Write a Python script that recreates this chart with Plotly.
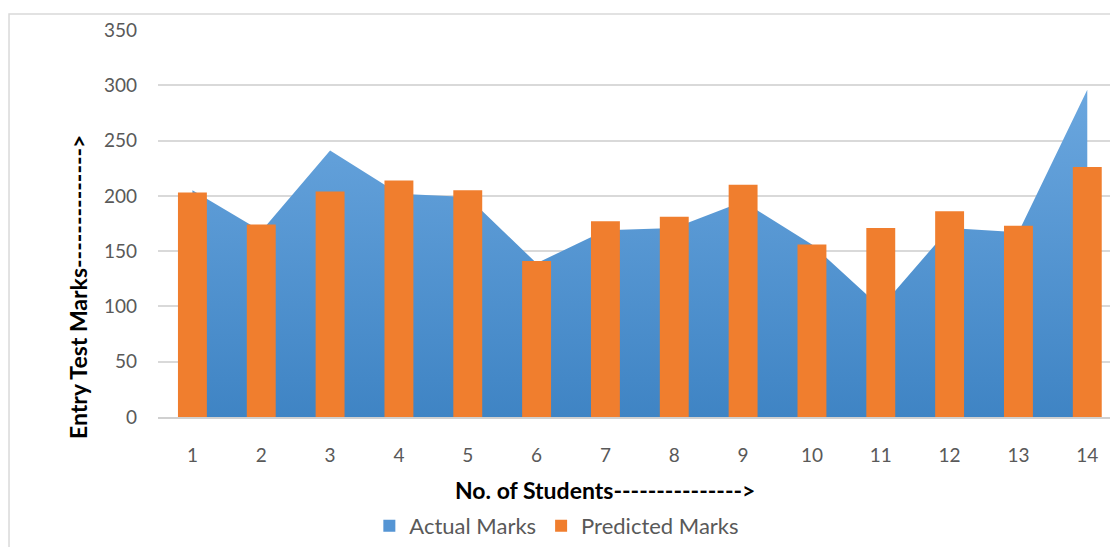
import plotly.graph_objects as go

students = list(range(1, 15))
actual_marks = [205, 168, 241, 202, 199, 139, 169, 171, 195, 156, 99, 171, 167, 296]
predicted_marks = [203, 174, 204, 214, 205, 141, 177, 181, 210, 156, 171, 186, 173, 226]
y_ticks = [0, 50, 100, 150, 200, 250, 300, 350]

FONT = "Lato"
GRAY = "#595959"
BLUE = "#5595d4"
ORANGE = "#f07e2e"

fig = go.Figure()
fig.add_trace(go.Scatter(
    x=students, y=actual_marks, name="Actual Marks", mode="lines",
    line=dict(width=0, color=BLUE), fill="tozeroy",
    fillgradient=dict(type="vertical", colorscale=[[0, "#3f84c4"], [1, "#6ba7df"]], start=0, stop=300),
    showlegend=False, xaxis="x", yaxis="y"))
# legend swatch for the area series (square, as in the reference)
fig.add_trace(go.Bar(
    x=[None], y=[None], name="Actual Marks", marker=dict(color=BLUE, line=dict(width=0)),
    xaxis="x2", yaxis="y2"))
fig.add_trace(go.Bar(
    x=students, y=predicted_marks, name="Predicted Marks", width=0.42,
    marker=dict(color=ORANGE, line=dict(width=0)),
    xaxis="x2", yaxis="y2"))

xr = [0.5, 14.33]
fig.update_layout(
    width=1110, height=547,
    margin=dict(l=158, r=0, t=30, b=130),
    paper_bgcolor="white", plot_bgcolor="white",
    font=dict(family=FONT, size=19, color=GRAY),
    showlegend=True, barmode="overlay",
    legend=dict(orientation="h", x=0.222, xanchor="left", y=-0.282, yanchor="middle",
                font=dict(family=FONT, size=22, color=GRAY), traceorder="normal"),
    xaxis=dict(range=xr, tickmode="array", tickvals=students, ticktext=[str(s) for s in students],
               showgrid=False, zeroline=False, showline=True, linecolor="#d0d0d0", linewidth=2,
               ticks="", ticklabelstandoff=20, tickfont=dict(size=19, color=GRAY)),
    yaxis=dict(range=[0, 350], tickvals=y_ticks, showgrid=True, gridcolor="#d9d9d9", gridwidth=1.5,
               zeroline=False, showline=False, ticks="", ticklabelstandoff=20,
               tickfont=dict(size=19, color=GRAY)),
    xaxis2=dict(range=xr, overlaying="x", visible=False),
    yaxis2=dict(range=[0, 350], overlaying="y", visible=False),
    shapes=[dict(type="rect", xref="paper", yref="paper", x0=-0.1565, x1=1.05, y0=-0.45, y1=1.0413,
                 line=dict(color="#d9d9d9", width=1.5), fillcolor="rgba(0,0,0,0)", layer="below")],
    annotations=[
        dict(text="<b>No. of Students---------------></b>", xref="paper", yref="paper",
             x=(605 - 158) / 952, y=(417 - 490) / 387, xanchor="center", yanchor="middle",
             showarrow=False, font=dict(family=FONT, size=23, color="black")),
        dict(text="<b>Entry Test Marks--------------></b>", xref="paper", yref="paper",
             x=(78 - 158) / 952, y=(417 - 287) / 387, xanchor="center", yanchor="middle",
             textangle=-90, showarrow=False, font=dict(family=FONT, size=23, color="black")),
    ],
)

fig.write_html("out.html")
